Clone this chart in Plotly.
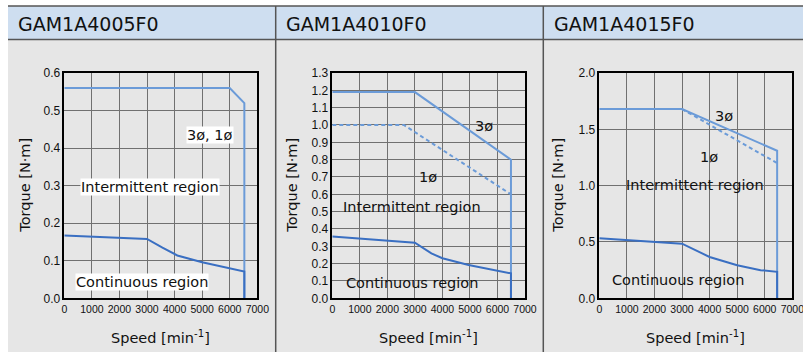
import plotly.graph_objects as go

# ---------------- data ----------------
titles = ["GAM1A4005F0", "GAM1A4010F0", "GAM1A4015F0"]
speed_ticks = [0, 1000, 2000, 3000, 4000, 5000, 6000, 7000]
speed_tick_labels = ["0", "1000", "2000", "3000", "4000", "5000", "6000", "7000"]

# GAM1A4005F0
speed1_int = [0, 6000, 6530, 6530]
torque1_int = [0.56, 0.56, 0.52, 0.0]
speed1_cont = [0, 3000, 3560, 4100, 5000, 6000, 6530, 6530]
torque1_cont = [0.167, 0.158, 0.135, 0.114, 0.096, 0.080, 0.071, 0.0]

# GAM1A4010F0
speed2_3ph = [0, 3000, 6490, 6490]
torque2_3ph = [1.19, 1.19, 0.80, 0.0]
speed2_1ph = [0, 2600, 6490]
torque2_1ph = [1.0, 1.0, 0.60]
speed2_cont = [0, 3000, 3600, 4000, 4950, 6490, 6490]
torque2_cont = [0.356, 0.321, 0.259, 0.231, 0.192, 0.144, 0.0]

# GAM1A4015F0
speed3_3ph = [0, 3000, 6450, 6450]
torque3_3ph = [1.68, 1.68, 1.31, 0.0]
speed3_1ph = [3000, 6450]
torque3_1ph = [1.68, 1.20]
speed3_cont = [0, 3000, 4000, 5000, 5850, 6450, 6450]
torque3_cont = [0.532, 0.485, 0.367, 0.294, 0.250, 0.235, 0.0]

y_ranges = [(0, 0.6, 0.1), (0, 1.3, 0.1), (0, 2.0, 0.5)]

# ---------------- style ----------------
W, H = 803, 352
C_INT = "#6b9bd8"
C_CONT = "#3a6fc2"
GRID = "#707070"
FONT = "DejaVu Sans, sans-serif"
TICKFONT = "Liberation Sans, Arial, sans-serif"

def px(x):
    return x / W

def py(y):
    return (H - y) / H

plot_x = [(64.3, 257.3), (332.3, 525.0), (599.3, 792.3)]
plot_y = (73.0, 298.3)

fig = go.Figure()

def add_line(k, xs, ys, color, dash="solid"):
    ax = "" if k == 1 else str(k)
    fig.add_trace(go.Scatter(x=xs, y=ys, mode="lines", xaxis="x" + ax, yaxis="y" + ax,
                             line=dict(color=color, width=2, dash=dash),
                             hoverinfo="skip", showlegend=False))

add_line(1, speed1_int, torque1_int, C_INT)
add_line(1, speed1_cont, torque1_cont, C_CONT)
add_line(2, speed2_1ph, torque2_1ph, C_INT, dash="4px,3px")
add_line(2, speed2_3ph, torque2_3ph, C_INT)
add_line(2, speed2_cont, torque2_cont, C_CONT)
add_line(3, speed3_1ph, torque3_1ph, C_INT, dash="4px,3px")
add_line(3, speed3_3ph, torque3_3ph, C_INT)
add_line(3, speed3_cont, torque3_cont, C_CONT)

layout = dict(width=W, height=H, margin=dict(l=0, r=0, t=0, b=0, autoexpand=False),
              paper_bgcolor="white", plot_bgcolor="white", showlegend=False)

for i in range(3):
    k = "" if i == 0 else str(i + 1)
    x0, x1 = plot_x[i]
    lo, hi, dt = y_ranges[i]
    layout["xaxis" + k] = dict(domain=[px(x0), px(x1)], range=[0, 7000], automargin=False,
                               tickvals=speed_ticks, ticktext=speed_tick_labels, tickangle=0,
                               ticklabeloverflow="allow",
                               showgrid=True, gridcolor=GRID, gridwidth=1,
                               showline=True, linecolor="black", linewidth=1.5, mirror=True,
                               zeroline=False, ticks="", fixedrange=True,
                               tickfont=dict(family=TICKFONT, size=10.5, color="#111"),
                               anchor="y" + k)
    layout["yaxis" + k] = dict(domain=[py(plot_y[1]), py(plot_y[0])], range=[lo, hi],
                               automargin=False, dtick=dt, tick0=0, tickformat=".1f",
                               showgrid=True, gridcolor=GRID, gridwidth=1,
                               showline=True, linecolor="black", linewidth=1.5, mirror=True,
                               zeroline=False, ticks="", fixedrange=True,
                               tickfont=dict(family=TICKFONT, size=12, color="#111"),
                               anchor="x" + k)

shapes = []
# header band and grey panel
shapes.append(dict(type="rect", xref="paper", yref="paper", x0=px(8), x1=1, y0=py(39.5), y1=py(6),
                   fillcolor="#cedef0", line=dict(width=0), layer="below"))
shapes.append(dict(type="rect", xref="paper", yref="paper", x0=px(8), x1=1, y0=0, y1=py(39.5),
                   fillcolor="#e6e6e6", line=dict(width=0), layer="below"))
shapes.append(dict(type="line", xref="paper", yref="paper", x0=px(8), x1=1, y0=py(6), y1=py(6),
                   line=dict(color="#555", width=1.5)))
shapes.append(dict(type="line", xref="paper", yref="paper", x0=px(8), x1=1, y0=py(39.5), y1=py(39.5),
                   line=dict(color="#555", width=1.5)))
for sx in (275.7, 543.3):
    shapes.append(dict(type="line", xref="paper", yref="paper", x0=px(sx), x1=px(sx), y0=0, y1=py(6),
                       line=dict(color="#555", width=1.5)))
layout["shapes"] = shapes

ann = []
head_x = [16, 284, 552]
ytitle_x = [25, 292, 558]
for i in range(3):
    ann.append(dict(text=titles[i], xref="paper", yref="paper", x=px(head_x[i]), y=py(24),
                    xanchor="left", yanchor="middle", showarrow=False,
                    font=dict(family=FONT, size=19, color="#111")))
    cx = (plot_x[i][0] + plot_x[i][1]) / 2
    ann.append(dict(text="Speed [min<sup>-1</sup>]", xref="paper", yref="paper", x=px(cx), y=py(337),
                    xanchor="center", yanchor="middle", showarrow=False,
                    font=dict(family=FONT, size=14.5, color="#111")))
    ann.append(dict(text="Torque [N·m]", xref="paper", yref="paper", x=px(ytitle_x[i]),
                    y=py((plot_y[0] + plot_y[1]) / 2), textangle=-90,
                    xanchor="center", yanchor="middle", showarrow=False,
                    font=dict(family=FONT, size=14.5, color="#111")))

def label(k, text, x, y, bg=None):
    ax = "" if k == 1 else str(k)
    d = dict(text=text, xref="x" + ax, yref="y" + ax, x=x, y=y, showarrow=False,
             xanchor="center", yanchor="middle",
             font=dict(family=FONT, size=14.5, color="#111"), borderpad=0)
    if bg:
        d["bgcolor"] = bg
    ann.append(d)

label(1, "3ø, 1ø", 5300, 0.435, "white")
label(1, "Intermittent region", 3090, 0.296, "white")
label(1, "Continuous region", 2800, 0.044, "white")
label(2, "3ø", 5520, 0.994)
label(2, "1ø", 3490, 0.70)
label(2, "Intermittent region", 2890, 0.524)
label(2, "Continuous region", 2890, 0.09)
label(3, "3ø", 4530, 1.62)
label(3, "1ø", 3990, 1.257)
label(3, "Intermittent region", 3470, 1.006)
label(3, "Continuous region", 2840, 0.162)
layout["annotations"] = ann

fig.update_layout(**layout)
fig.write_html("out.html", config={"displayModeBar": False},
               post_script="document.body.style.margin='0';document.body.style.padding='0';"
                           "document.body.style.overflow='hidden';")
